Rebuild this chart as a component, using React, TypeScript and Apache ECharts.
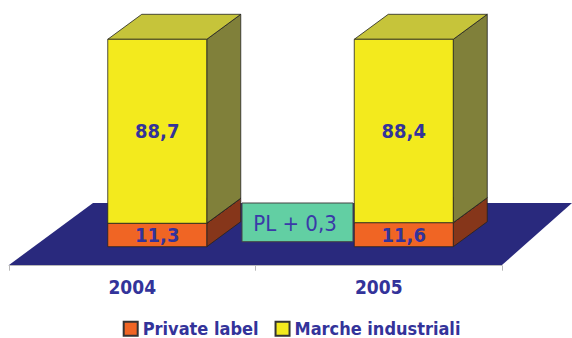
import React, { useEffect, useRef } from "react";
import * as echarts from "echarts";

const categories = ["2004", "2005"];
const privateLabel = [11.3, 11.6];
const marcheIndustriali = [88.7, 88.4];
const seriesNames = ["Private label", "Marche industriali"];
const annotationText = "PL + 0,3";

const TEXT = "#33339a";
const FONT = '"DejaVu Sans Condensed", "DejaVu Sans", sans-serif';
const W = 99;
const DX = 34;
const DY = -25;
const OFFSET = 25;

const fmt = (v: number) => v.toFixed(1).replace(".", ",");

function makeSeries(name: string, data: number[][], front: string, side: string, top: string) {
  return {
    type: "custom",
    name,
    data,
    itemStyle: { color: front, borderColor: "#333", borderWidth: 1 },
    renderItem: (params: any, api: any) => {
      const i = api.value(0);
      const s = api.value(1);
      const e = api.value(2);
      const b = api.coord([i, s]);
      const t = api.coord([i, e]);
      const cx = b[0] + OFFSET;
      const x0 = cx - W / 2;
      const x1 = cx + W / 2;
      const yb = b[1];
      const yt = t[1];
      const stroke = { stroke: "#222", lineWidth: 0.8 };
      return {
        type: "group",
        children: [
          {
            type: "polygon",
            shape: { points: [[x1, yb], [x1 + DX, yb + DY], [x1 + DX, yt + DY], [x1, yt]] },
            style: { fill: side, ...stroke },
          },
          {
            type: "polygon",
            shape: { points: [[x0, yt], [x0 + DX, yt + DY], [x1 + DX, yt + DY], [x1, yt]] },
            style: { fill: top, ...stroke },
          },
          {
            type: "rect",
            shape: { x: x0, y: yt, width: W, height: yb - yt },
            style: { fill: front, ...stroke },
          },
          {
            type: "text",
            x: cx,
            y: (yt + yb) / 2,
            style: {
              text: fmt(e - s),
              fill: TEXT,
              font: `bold 20px ${FONT}`,
              align: "center",
              verticalAlign: "middle",
            },
          },
        ],
      };
    },
  };
}

export default function App() {
  const ref = useRef<HTMLDivElement>(null);
  useEffect(() => {
    if (!ref.current) return;
    const chart = echarts.init(ref.current, undefined, { renderer: "svg" });
    const plData = categories.map((_, i) => [i, 0, privateLabel[i]]);
    const miData = categories.map((_, i) => [i, privateLabel[i], privateLabel[i] + marcheIndustriali[i]]);
    chart.setOption({
      animation: false,
      backgroundColor: "#ffffff",
      grid: { left: 9, right: 70, top: 39.3, bottom: 91.3 },
      xAxis: {
        type: "category",
        data: categories,
        offset: 19,
        axisLine: { onZero: false, lineStyle: { color: "#b8b8b8", width: 1 } },
        axisTick: { show: true, length: 5, lineStyle: { color: "#b8b8b8" } },
        axisLabel: { color: TEXT, fontFamily: FONT, fontWeight: "bold", fontSize: 19, margin: 12 },
      },
      yAxis: { type: "value", min: 0, max: 100, show: false },
      legend: {
        left: 117.7,
        top: 314.7,
        itemWidth: 14,
        itemHeight: 14,
        itemGap: 16,
        icon: "rect",
        data: seriesNames,
        textStyle: { color: TEXT, fontFamily: FONT, fontWeight: "bold", fontSize: 18 },
      },
      graphic: [
        {
          type: "polygon",
          z: -10,
          shape: { points: [[9, 265], [502, 265], [572, 203], [93, 203]] },
          style: { fill: "#29297d" },
        },
        {
          type: "rect",
          z: 10,
          shape: { x: 242, y: 203, width: 111, height: 38.7 },
          style: { fill: "#62cfa3", stroke: "#444", lineWidth: 1 },
        },
        {
          type: "text",
          z: 11,
          x: 295,
          y: 223,
          style: {
            text: annotationText,
            fill: "#3a3aa8",
            font: `22px ${FONT}`,
            align: "center",
            verticalAlign: "middle",
          },
        },
      ],
      series: [
        makeSeries(seriesNames[0], plData, "#f06524", "#86361a", "#b04a1e"),
        makeSeries(seriesNames[1], miData, "#f3ea1d", "#80803a", "#c6c43a"),
      ],
    });
    return () => chart.dispose();
  }, []);
  return <div ref={ref} style={{ position: "fixed", left: 0, top: 0, width: 572, height: 338 }} />;
}
